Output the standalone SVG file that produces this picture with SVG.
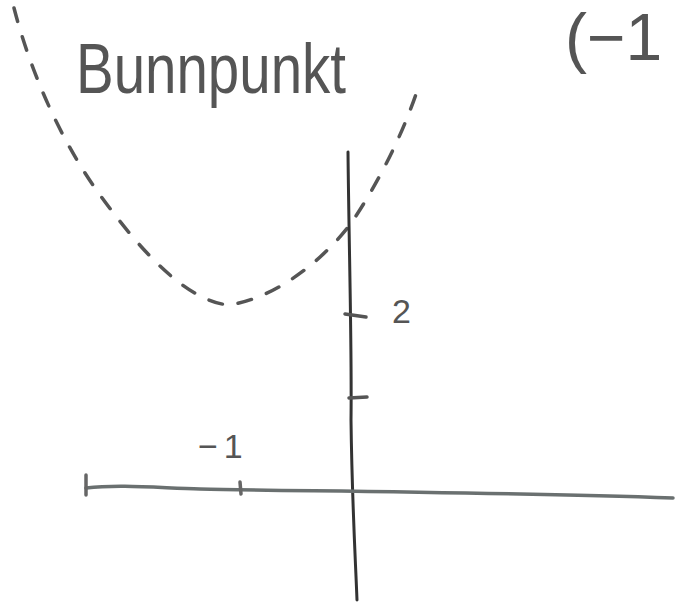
<svg xmlns="http://www.w3.org/2000/svg" width="675" height="603" viewBox="0 0 675 603">
<style>
.t{font-family:"Liberation Sans","DejaVu Sans",sans-serif;fill:#555;}
.ax{fill:none;stroke-linecap:round;}
</style>
<rect width="675" height="603" fill="#fff"/>
<text class="t" x="76" y="93" font-size="70" textLength="270" lengthAdjust="spacingAndGlyphs">Bunnpunkt</text>
<text class="t" x="565" y="60" font-size="66">(−1</text>
<path d="M14,8 C30,70 60,140 100,195 C140,250 185,300 228,305 C270,300 320,265 352,222 C380,180 405,130 420,82" fill="none" stroke="#555" stroke-width="3.5" stroke-dasharray="14,16" stroke-linecap="round"/>
<path class="ax" d="M348,152 C349,250 352,350 351,420 C352,500 355,550 357,600" stroke="#333" stroke-width="3"/>
<path class="ax" d="M86,488 C120,484 160,488 200,489 C300,491 500,492 673,498" stroke="#6a7070" stroke-width="3.5"/>
<path class="ax" d="M86,475 L86,495" stroke="#666" stroke-width="3.5"/>
<path class="ax" d="M240,482 L241,494" stroke="#666" stroke-width="3.5"/>
<path class="ax" d="M345,314 L366,317" stroke="#555" stroke-width="3.5"/>
<path class="ax" d="M349,398 L367,397" stroke="#555" stroke-width="3.5"/>
<text class="t" x="392" y="323" font-size="34">2</text>
<text class="t" x="198" y="458" font-size="34" letter-spacing="6">−1</text>
</svg>
